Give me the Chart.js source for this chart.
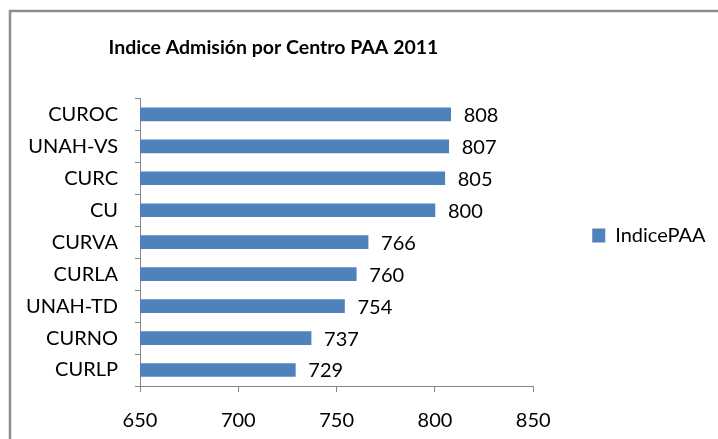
<!DOCTYPE html>
<html>
<head>
<meta charset="utf-8">
<script src="https://cdn.jsdelivr.net/npm/chart.js@4/dist/chart.umd.min.js"></script>
<style>
  html, body { margin: 0; padding: 0; background: #fff; }
</style>
</head>
<body>
<canvas id="paaChart" width="718" height="439"></canvas>
<script>
// Data
const centros = ['CUROC', 'UNAH-VS', 'CURC', 'CU', 'CURVA', 'CURLA', 'UNAH-TD', 'CURNO', 'CURLP'];
const indicePAA = [808, 807, 805, 800, 766, 760, 754, 737, 729];
const xTicks = [650, 700, 750, 800, 850];

const FONT = 'Lato, "Open Sans", sans-serif';
const AXIS_GRAY = '#868686';
const BAR_BLUE = '#4F81BD';

// Frame round the whole chart (Excel chart border)
const chartFrame = {
    id: 'chartFrame',
    beforeDraw(chart) {
        const c = chart.ctx;
        c.save();
        c.strokeStyle = '#8c8c8c';
        c.lineWidth = 2.5;
        c.strokeRect(10, 11, chart.width + 20, chart.height + 20);
        c.restore();
    }
};

// Value written just past the end of each bar
const barValues = {
    id: 'barValues',
    afterDatasetsDraw(chart) {
        const c = chart.ctx;
        const meta = chart.getDatasetMeta(0);
        c.save();
        c.font = '20px ' + FONT;
        c.fillStyle = '#000';
        c.textAlign = 'left';
        c.textBaseline = 'middle';
        meta.data.forEach((bar, i) => {
            c.fillText(String(indicePAA[i]), bar.x + 13, bar.y + 1);
        });
        c.restore();
    }
};

// Excel puts the title left of centre and the legend a little low
const boxNudge = {
    id: 'boxNudge',
    afterLayout(chart) {
        const t = chart.titleBlock;
        const l = chart.legend;
        t.left -= 82; t.right -= 82;
        l.top += 16; l.bottom += 16;
    }
};

const ctx = document.getElementById('paaChart').getContext('2d');
new Chart(ctx, {
    type: 'bar',
    data: {
        labels: centros,
        datasets: [{
            label: 'IndicePAA',
            data: indicePAA,
            backgroundColor: BAR_BLUE,
            borderWidth: 0,
            barThickness: 13
        }]
    },
    options: {
        indexAxis: 'y',
        responsive: false,
        animation: false,
        layout: { padding: { left: 0, right: 7, top: 0, bottom: 0 } },
        plugins: {
            title: {
                display: true,
                text: 'Indice Admisión por Centro PAA 2011',
                color: '#000',
                font: { family: FONT, size: 19.5, weight: 'bold', lineHeight: 1.2 },
                padding: { top: 36, bottom: 39 }
            },
            legend: {
                position: 'right',
                labels: {
                    boxWidth: 13,
                    boxHeight: 14,
                    padding: 59,
                    color: '#000',
                    font: { family: FONT, size: 20 }
                }
            },
            tooltip: { enabled: false }
        },
        scales: {
            x: {
                min: 650,
                max: 850,
                afterFit: (scale) => { scale.height = 53; },
                afterBuildTicks: (scale) => { scale.ticks = xTicks.map(v => ({ value: v })); },
                grid: { drawOnChartArea: false, color: AXIS_GRAY, tickLength: 6 },
                border: { color: AXIS_GRAY },
                ticks: { color: '#000', padding: 17, font: { family: FONT, size: 20 } }
            },
            y: {
                afterFit: (scale) => { scale.width = 140; },
                grid: { drawOnChartArea: false, color: AXIS_GRAY, tickLength: 5, offset: true },
                border: { color: AXIS_GRAY },
                ticks: { color: '#000', padding: 17, font: { family: FONT, size: 20 } }
            }
        }
    },
    plugins: [chartFrame, barValues, boxNudge]
});
</script>
</body>
</html>
